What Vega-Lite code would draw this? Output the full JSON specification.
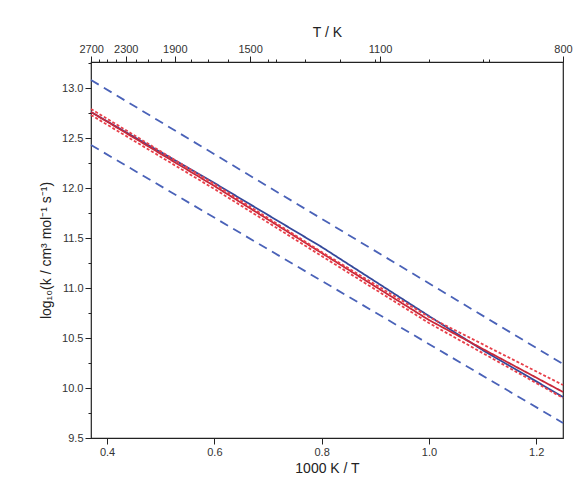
{
  "$schema": "https://vega.github.io/schema/vega-lite/v6.json",
  "width": 472,
  "height": 376,
  "autosize": "none",
  "padding": {"left": 91, "top": 62, "right": 25, "bottom": 50},
  "background": "white",
  "config": {
    "view": {"stroke": "#222", "strokeWidth": 1.2},
    "axis": {"labelFont": "Liberation Sans", "titleFont": "Liberation Sans", "labelFontSize": 11, "titleFontSize": 14, "titleFontWeight": "normal", "labelColor": "#333", "titleColor": "#222", "grid": false, "domainColor": "#222", "tickColor": "#222", "labelFlush": false}
  },
  "data": {"values": [
    {"s": "fit", "x": 0.37, "y": 12.76}, {"s": "fit", "x": 0.6, "y": 12.05}, {"s": "fit", "x": 0.8, "y": 11.41}, {"s": "fit", "x": 1.0, "y": 10.72}, {"s": "fit", "x": 1.1, "y": 10.38}, {"s": "fit", "x": 1.25, "y": 9.91},
    {"s": "up", "x": 0.37, "y": 13.08}, {"s": "up", "x": 1.25, "y": 10.24},
    {"s": "lo", "x": 0.37, "y": 12.43}, {"s": "lo", "x": 1.25, "y": 9.65},
    {"s": "red", "x": 0.37, "y": 12.76}, {"s": "red", "x": 0.6, "y": 12.02}, {"s": "red", "x": 0.8, "y": 11.35}, {"s": "red", "x": 1.0, "y": 10.68}, {"s": "red", "x": 1.25, "y": 9.96},
    {"s": "rup", "x": 0.37, "y": 12.79}, {"s": "rup", "x": 0.6, "y": 12.04}, {"s": "rup", "x": 0.8, "y": 11.36}, {"s": "rup", "x": 1.0, "y": 10.71}, {"s": "rup", "x": 1.25, "y": 10.03},
    {"s": "rlo", "x": 0.37, "y": 12.73}, {"s": "rlo", "x": 0.6, "y": 11.99}, {"s": "rlo", "x": 0.8, "y": 11.32}, {"s": "rlo", "x": 1.0, "y": 10.65}, {"s": "rlo", "x": 1.25, "y": 9.9}
  ]},
  "resolve": {"axis": {"x": "independent", "y": "independent"}},
  "layer": [
    {
      "mark": {"type": "line", "strokeWidth": 1.8},
      "encoding": {
        "x": {"field": "x", "type": "quantitative", "scale": {"domain": [0.37, 1.25], "nice": false, "zero": false},
              "axis": {"values": [0.4, 0.6, 0.8, 1.0, 1.2], "format": ".1f", "title": "1000 K / T", "tickSize": 6, "domain": false}},
        "y": {"field": "y", "type": "quantitative", "scale": {"domain": [9.5, 13.26], "nice": false, "zero": false},
              "axis": {"values": [9.5, 10, 10.5, 11, 11.5, 12, 12.5, 13], "format": ".1f", "title": "log₁₀(k / cm³ mol⁻¹ s⁻¹)", "tickSize": 6, "domain": false, "titlePadding": 8}},
        "color": {"field": "s", "type": "nominal", "legend": null,
                  "scale": {"domain": ["fit", "up", "lo", "red", "rup", "rlo"], "range": ["#34489a", "#4a62b8", "#4a62b8", "#c8283a", "#e8404a", "#e8404a"]}},
        "strokeDash": {"field": "s", "type": "nominal", "legend": null,
                  "scale": {"domain": ["fit", "up", "lo", "red", "rup", "rlo"], "range": [[1, 0], [9, 6], [9, 6], [1, 0], [3, 2], [3, 2]]}}
      }
    },
    {
      "mark": {"type": "line", "opacity": 0},
      "encoding": {
        "x": {"field": "x", "type": "quantitative", "axis": {"values": [0.5, 0.7, 0.9, 1.1], "labels": false, "title": null, "tickSize": 3, "domain": false}},
        "y": {"field": "y", "type": "quantitative", "axis": {"orient": "left", "values": [9.75, 10.25, 10.75, 11.25, 11.75, 12.25, 12.75, 13.25], "labels": false, "title": null, "tickSize": 3, "domain": false}}
      }
    },
    {
      "mark": {"type": "line", "opacity": 0},
      "encoding": {
        "x": {"field": "x", "type": "quantitative", "axis": {"orient": "top", "values": [0.37037, 0.434783, 0.526316, 0.666667, 0.909091, 1.25], "labelExpr": "format(round(1000/datum.value/100)*100, 'd')", "labelOverlap": false, "title": "T / K", "tickSize": 6, "domain": false}},
        "y": {"field": "y", "type": "quantitative", "axis": null}
      }
    },
    {
      "mark": {"type": "line", "opacity": 0},
      "encoding": {
        "x": {"field": "x", "type": "quantitative", "axis": {"orient": "top", "values": [0.384615, 0.4, 0.416667, 0.454545, 0.47619, 0.5, 0.555556, 0.588235, 0.625, 0.714286, 0.769231, 0.833333, 1.0, 1.111111], "labels": false, "title": null, "tickSize": 3, "domain": false}},
        "y": {"field": "y", "type": "quantitative", "axis": null}
      }
    }
  ]
}
